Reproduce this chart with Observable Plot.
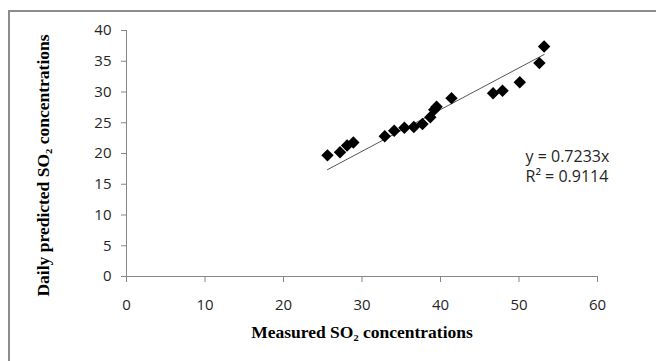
<!DOCTYPE html>
<html>
<head>
<meta charset="utf-8">
<script src="https://cdn.jsdelivr.net/npm/d3@7"></script>
<script src="https://cdn.jsdelivr.net/npm/@observablehq/plot@0.6"></script>
<style>
  html, body { margin: 0; padding: 0; background: #fff; overflow: hidden; }
  #wrap { position: relative; width: 656px; height: 361px; overflow: hidden; }
  #border { position: absolute; left: 8px; top: 10px; width: 700px; height: 400px;
            border-top: 2px solid #8c8c8c; border-left: 2px solid #8c8c8c; pointer-events: none; }
  #chart svg { display: block; }
  #chart g[aria-label="x-axis tick"] path, #chart g[aria-label="y-axis tick"] path { stroke: #868686; }
</style>
</head>
<body>
<div id="wrap"><div id="chart"></div><div id="border"></div></div>
<script>
// Measured SO2 concentrations (x) and daily predicted SO2 concentrations (y)
const measured  = [25.6, 27.2, 28.1, 28.9, 32.9, 34.1, 35.4, 36.6, 37.7, 38.7, 39.2, 39.5, 41.4, 46.7, 47.9, 50.1, 52.6, 53.2];
const predicted = [19.7, 20.2, 21.3, 21.8, 22.8, 23.7, 24.2, 24.3, 24.8, 25.9, 27.1, 27.6, 29.0, 29.8, 30.2, 31.6, 34.7, 37.4];
const xTicks = [0, 10, 20, 30, 40, 50, 60];
const yTicks = [0, 5, 10, 15, 20, 25, 30, 35, 40];
const eqLabel = "y = 0.7233x";
const r2Label = "R² = 0.9114";
const xTitle = "Measured SO₂ concentrations";
const yTitle = "Daily predicted SO₂ concentrations";

const data = measured.map((x, i) => ({x, y: predicted[i]}));
// linear trendline through the origin, fitted to the points
const slope = d3.sum(data, d => d.x * d.y) / d3.sum(data, d => d.x * d.x);
const [x0, x1] = d3.extent(measured);
const trend = [{x: x0, y: slope * x0}, {x: x1, y: slope * x1}];

const tickFont = "'Open Sans', sans-serif";
const titleFont = "'Liberation Serif', 'Times New Roman', serif";

const chart = Plot.plot({
  width: 656,
  height: 361,
  marginLeft: 126,
  marginRight: 59,
  marginTop: 30,
  marginBottom: 85,
  style: {fontFamily: tickFont, fontSize: "15px", color: "#262626", background: "transparent"},
  x: {domain: [0, 60], ticks: xTicks, tickSize: 6, tickPadding: 17, label: null},
  y: {domain: [0, 40], ticks: yTicks, tickSize: 5, tickPadding: 10, label: null},
  marks: [
    Plot.ruleY([0], {stroke: "#868686"}),
    Plot.ruleX([0], {stroke: "#868686"}),
    Plot.line(trend, {x: "x", y: "y", stroke: "#555", strokeWidth: 1}),
    Plot.dot(data, {x: "x", y: "y", symbol: "diamond2", r: 5.6, fill: "#000", stroke: "none"}),
    Plot.text([eqLabel + "\n" + r2Label], {frameAnchor: "top-right", dx: -72, dy: 135, textAnchor: "start",
      lineAnchor: "middle", lineHeight: 1.22, fontSize: 16, fill: "#262626", fontFamily: tickFont}),
    Plot.text([xTitle], {frameAnchor: "bottom", dy: 61, textAnchor: "middle", fontSize: 17.5, fontWeight: "bold",
      fontFamily: titleFont, fill: "#000"}),
    Plot.text([yTitle], {frameAnchor: "left", dx: -83, dy: 12, textAnchor: "middle", rotate: -90, fontSize: 17.5,
      fontWeight: "bold", fontFamily: titleFont, fill: "#000"})
  ]
});
document.getElementById("chart").appendChild(chart);
</script>
</body>
</html>
